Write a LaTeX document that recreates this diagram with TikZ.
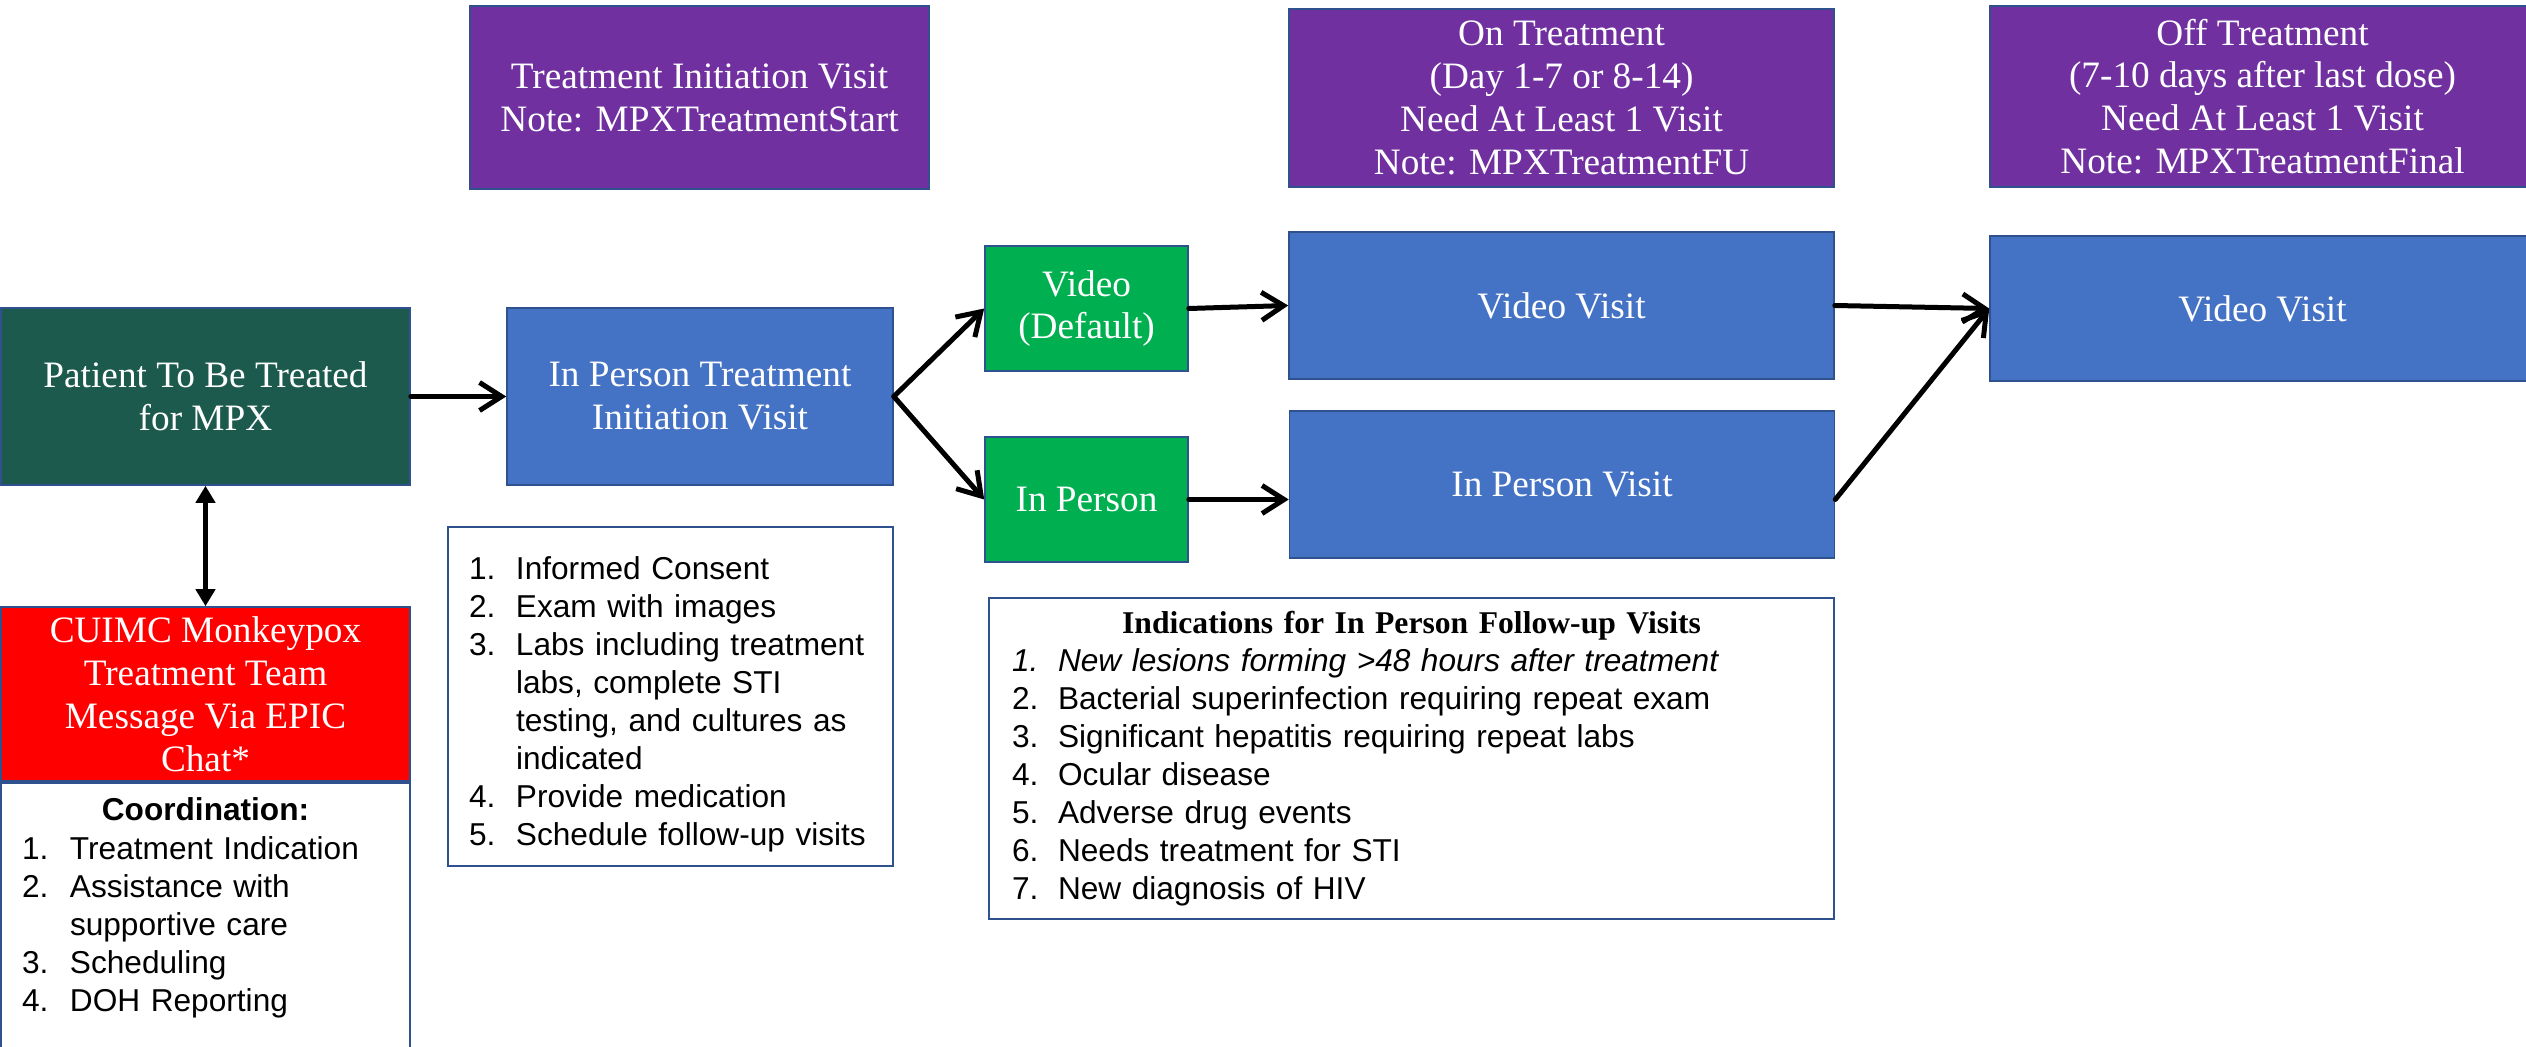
\documentclass[tikz,border=0pt]{standalone}
\usepackage{fontspec}
\setmainfont{Liberation Serif}
\setsansfont{Liberation Sans}
\usetikzlibrary{arrows.meta}

\definecolor{boxline}{HTML}{2F528F}
\definecolor{phasefill}{HTML}{7030A0}
\definecolor{visitfill}{HTML}{4472C4}
\definecolor{choicefill}{HTML}{00B050}
\definecolor{patientfill}{HTML}{1C5A4D}
\definecolor{alertfill}{HTML}{FF0000}

% numbered list row with a hanging indent
\newlength\rowindent
\newcommand\listrow[2]{\par\hangindent=\rowindent\hangafter=1\noindent\makebox[\rowindent][l]{#1}#2}

\tikzset{
  boxbase/.style={rectangle, draw=boxline, line width=0.45pt, inner sep=0pt, align=center},
  whitetext/.style={text=white, font=\fontsize{10.6pt}{12.2pt}\selectfont},
  phasebox/.style={boxbase, whitetext, fill=phasefill},
  visitbox/.style={boxbase, whitetext, fill=visitfill},
  choicebox/.style={boxbase, whitetext, fill=choicefill},
  listbox/.style={rectangle, draw=boxline, line width=0.6pt, fill=white, align=left,
    inner ysep=0pt, font=\sffamily\fontsize{9pt}{10.8pt}\selectfont},
  flow/.style={line width=0.5mm, line cap=round, line join=round,
    -{Straight Barb[length=2.2mm,width=2.8mm]}},
  link/.style={line width=0.5mm,
    {Triangle[length=1.7mm,width=1.9mm]}-{Triangle[length=1.7mm,width=1.9mm]}}
}

\begin{document}
\begin{tikzpicture}[x=0.1mm, y=-0.1mm]
\useasboundingbox (0,0) rectangle (2526,1047);
\fill[white] (0,0) rectangle (2526,1047);

% phase headers
\node[phasebox, minimum width=45.9mm, minimum height=18.3mm] (startphase) at (699.5,97.5)
  {Treatment Initiation Visit\\Note: MPXTreatmentStart};
\node[phasebox, minimum width=54.5mm, minimum height=17.8mm] (onphase) at (1561.5,98)
  {On Treatment\\(Day 1-7 or 8-14)\\Need At Least 1 Visit\\Note: MPXTreatmentFU};
\node[phasebox, minimum width=54.5mm, minimum height=18.1mm] (offphase) at (2262.5,96.5)
  {Off Treatment\\(7-10 days after last dose)\\Need At Least 1 Visit\\Note: MPXTreatmentFinal};

% main flow
\node[boxbase, whitetext, fill=patientfill, minimum width=40.9mm, minimum height=17.7mm] (patient) at (205.5,396.5)
  {Patient To Be Treated\\for MPX};
\node[visitbox, minimum width=38.6mm, minimum height=17.7mm] (initvisit) at (700,396.5)
  {In Person Treatment\\Initiation Visit};
\node[choicebox, minimum width=20.3mm, minimum height=12.5mm] (videochoice) at (1086.5,308.5)
  {Video\\(Default)};
\node[choicebox, minimum width=20.3mm, minimum height=12.5mm] (personchoice) at (1086.5,499.5)
  {In Person};
\node[visitbox, minimum width=54.5mm, minimum height=14.7mm] (videovisit) at (1561.5,305.5)
  {Video Visit};
\node[visitbox, minimum width=54.5mm, minimum height=14.7mm] (personvisit) at (1562,484.5)
  {In Person Visit};
\node[visitbox, minimum width=54.5mm, minimum height=14.5mm] (finalvisit) at (2262.5,308.5)
  {Video Visit};

% treatment team
\node[boxbase, whitetext, fill=alertfill, minimum width=40.9mm, minimum height=17.4mm] (team) at (205.5,694)
  {CUIMC Monkeypox\\Treatment Team\\Message Via EPIC\\Chat*};
\node[listbox, anchor=north, text width=36.7mm, inner xsep=2.1mm, inner ysep=1.5mm, text depth=30mm] (coord) at (team.south)
  {\setlength\rowindent{4.8mm}%
   {\centering\bfseries Coordination:\par}\vspace{0.1mm}%
   \listrow{1.}{Treatment Indication}%
   \listrow{2.}{Assistance with\newline supportive care}%
   \listrow{3.}{Scheduling}%
   \listrow{4.}{DOH Reporting}};

% initiation visit tasks
\node[listbox, text width=40.3mm, inner xsep=2.1mm, minimum height=33.9mm] (tasks) at (670.5,696.5)
  {\setlength\rowindent{4.7mm}%
   \listrow{1.}{Informed Consent}%
   \listrow{2.}{Exam with images}%
   \listrow{3.}{Labs including treatment\newline labs, complete STI\newline testing, and cultures as\newline indicated}%
   \listrow{4.}{Provide medication}%
   \listrow{5.}{Schedule follow-up visits}};

% follow-up indications
\node[listbox, text width=79.9mm, inner xsep=2.3mm, minimum height=32.1mm] (indications) at (1411.5,758.5)
  {\setlength\rowindent{4.6mm}%
   {\centering\rmfamily\bfseries Indications for In Person Follow-up Visits\par}%
   \listrow{\textit{1.}}{\textit{New lesions forming >48 hours after treatment}}%
   \listrow{2.}{Bacterial superinfection requiring repeat exam}%
   \listrow{3.}{Significant hepatitis requiring repeat labs}%
   \listrow{4.}{Ocular disease}%
   \listrow{5.}{Adverse drug events}%
   \listrow{6.}{Needs treatment for STI}%
   \listrow{7.}{New diagnosis of HIV}};

% connectors
\draw[link] (patient.south) -- (team.north);
\draw[flow] (patient.east) -- (initvisit.west);
\draw[flow] (initvisit.east) -- (videochoice.west);
\draw[flow] (initvisit.east) -- (personchoice.west);
\draw[flow] (videochoice.east) -- (videovisit.west);
\draw[flow] (personchoice.east) -- (personchoice.east -| personvisit.west);
\draw[flow] (videovisit.east) -- (finalvisit.west);
\draw[flow] (personvisit.east |- personchoice.east) -- (finalvisit.west);
\end{tikzpicture}
\end{document}
